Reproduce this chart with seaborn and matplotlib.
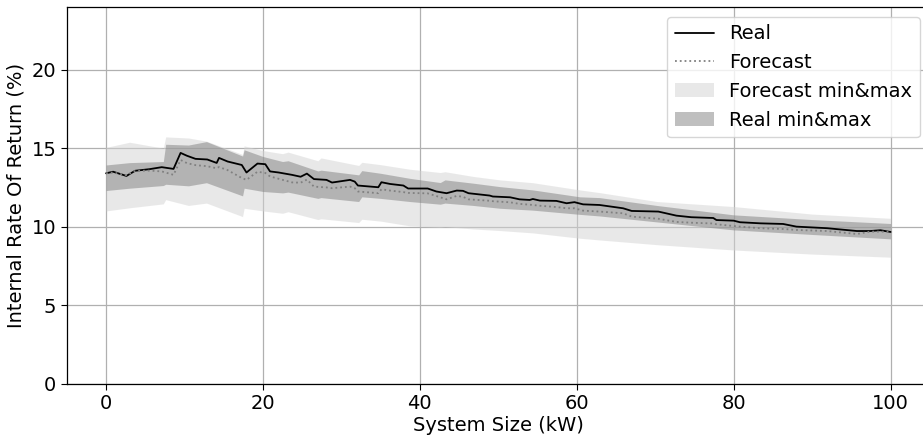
import matplotlib
matplotlib.use("Agg")
import matplotlib.pyplot as plt
import seaborn as sns
import pandas as pd

# System size (kW) at the points where the IRR curves change slope
size_kw = [0, 0.9, 2.6, 3.7, 5.5, 7.1, 8.6, 9.5, 10.3, 11.4, 12.9, 14.1, 14.4, 15.5,
           17.3, 17.9, 19.3, 20.3, 20.9, 22.0, 23.7, 24.8, 25.6, 26.5, 28.1, 28.8,
           31.1, 31.7, 32.1, 34.7, 35.1, 36.2, 37.9, 38.5, 41.0, 42.1, 43.4, 44.7,
           45.5, 46.2, 48.9, 49.3, 51.5, 52.7, 54.0, 54.4, 55.3, 57.4, 58.7, 59.7,
           60.8, 62.9, 65.9, 67.0, 70.4, 72.7, 74.6, 77.4, 77.8, 80.0, 80.8, 83.4,
           86.3, 88.0, 91.9, 95.7, 97.4, 98.7, 100]

irr_real = [13.40, 13.50, 13.23, 13.56, 13.66, 13.79, 13.68, 14.70, 14.52, 14.32, 14.28,
            14.06, 14.38, 14.15, 13.93, 13.45, 14.02, 13.98, 13.52, 13.45, 13.30, 13.18,
            13.38, 13.03, 12.98, 12.81, 12.98, 12.87, 12.62, 12.51, 12.83, 12.72, 12.62,
            12.43, 12.43, 12.24, 12.13, 12.30, 12.28, 12.13, 11.98, 11.92, 11.87, 11.74,
            11.70, 11.76, 11.66, 11.64, 11.49, 11.56, 11.42, 11.38, 11.17, 11.00, 10.96,
            10.70, 10.60, 10.55, 10.42, 10.38, 10.28, 10.21, 10.17, 10.00, 9.90, 9.72,
            9.72, 9.77, 9.66]

irr_forecast = [13.40, 13.45, 13.28, 13.55, 13.57, 13.52, 13.30, 14.25, 14.05, 13.92, 13.85,
                13.72, 13.80, 13.60, 13.10, 12.98, 13.50, 13.42, 13.20, 13.05, 12.82, 12.80,
                13.00, 12.55, 12.50, 12.45, 12.55, 12.45, 12.24, 12.13, 12.38, 12.30, 12.20,
                12.15, 12.12, 11.95, 11.74, 11.96, 11.90, 11.74, 11.65, 11.62, 11.55, 11.45,
                11.40, 11.38, 11.33, 11.25, 11.17, 11.17, 11.02, 10.96, 10.85, 10.64, 10.50,
                10.30, 10.25, 10.20, 10.15, 10.04, 10.00, 9.90, 9.85, 9.79, 9.72, 9.53,
                9.68, 9.68, 9.68]

# Envelope breakpoints (kW) for the min/max bands
band_kw = [0, 3, 7.3, 7.6, 10.5, 12.8, 17.4, 17.6, 20.0, 22.5, 23.2, 27.0, 27.4, 32.2,
           32.6, 35, 38.7, 42.6, 43.2, 46.8, 50.2, 54.4, 60.4, 62.9, 70.2, 80, 90, 100]

forecast_max = [15.05, 15.38, 15.00, 15.72, 15.65, 15.45, 14.60, 15.15, 14.85, 14.65, 14.75,
                14.20, 14.38, 13.90, 14.10, 13.95, 13.66, 13.45, 13.50, 13.20, 12.98, 12.80,
                12.34, 12.17, 11.60, 11.28, 10.80, 10.53]
forecast_min = [11.00, 11.20, 11.45, 11.72, 11.35, 11.50, 10.64, 11.17, 11.00, 10.85, 10.95,
                10.45, 10.50, 10.26, 10.47, 10.35, 10.05, 9.96, 10.00, 9.85, 9.75, 9.60,
                9.26, 9.15, 8.85, 8.51, 8.25, 8.05]
real_max = [13.93, 14.08, 14.15, 15.25, 15.20, 15.42, 14.50, 14.90, 14.47, 14.15, 14.20,
            13.55, 13.60, 13.30, 13.57, 13.40, 13.08, 12.81, 12.98, 12.77, 12.55, 12.34,
            11.90, 11.85, 11.35, 10.75, 10.45, 10.20]
real_min = [12.30, 12.45, 12.62, 12.70, 12.60, 12.80, 11.96, 12.45, 12.24, 12.15, 12.20,
            11.80, 11.85, 11.60, 11.90, 11.80, 11.60, 11.43, 11.50, 11.35, 11.17, 11.05,
            10.78, 10.68, 10.30, 9.79, 9.50, 9.22]

x_ticks = [0, 20, 40, 60, 80, 100]
y_ticks = [0, 5, 10, 15, 20]

lines = pd.DataFrame({"size": size_kw, "real": irr_real, "forecast": irr_forecast})
bands = pd.DataFrame({"size": band_kw, "fmax": forecast_max, "fmin": forecast_min,
                      "rmax": real_max, "rmin": real_min})

sns.set_style("whitegrid", {
    "axes.edgecolor": "black",
    "grid.color": "#b0b0b0",
    "xtick.bottom": True,
    "ytick.left": True,
    "text.color": "black",
    "axes.labelcolor": "black",
    "xtick.color": "black",
    "ytick.color": "black",
})
plt.rcParams["font.family"] = ["DejaVu Sans"]

fig = plt.figure(figsize=(9.23, 4.37), dpi=100)
ax = fig.add_axes([0.0724, 0.1224, 0.935, 0.8616])

sns.lineplot(data=lines, x="size", y="real", ax=ax, color="black", linewidth=1.3,
             label="Real", estimator=None, sort=False)
sns.lineplot(data=lines, x="size", y="forecast", ax=ax, color="gray", linewidth=1.3,
             linestyle=":", label="Forecast", estimator=None, sort=False)
ax.fill_between(bands["size"], bands["fmin"], bands["fmax"], color="lightgray",
                alpha=0.5, linewidth=0, label="Forecast min&max")
ax.fill_between(bands["size"], bands["rmin"], bands["rmax"], color="gray",
                alpha=0.5, linewidth=0, label="Real min&max")

ax.set_xlim(-5, 105)
ax.set_ylim(0, 24)
ax.set_xticks(x_ticks)
ax.set_yticks(y_ticks)
ax.tick_params(axis="both", labelsize=14, length=4, width=0.8, color="black",
               labelcolor="black")
ax.set_xlabel("System Size (kW)", fontsize=14, labelpad=2, color="black")
ax.set_ylabel("Internal Rate Of Return (%)", fontsize=14, color="black")
ax.grid(True, color="#b0b0b0", linewidth=0.9)
for side in ["left", "bottom", "top", "right"]:
    ax.spines[side].set_color("black")
    ax.spines[side].set_linewidth(0.9)

leg = ax.legend(loc="upper right", fontsize=14, frameon=True, framealpha=0.8,
                edgecolor="#cccccc", fancybox=True)
for t in leg.get_texts():
    t.set_color("black")

fig.savefig("out.png", dpi=100)
